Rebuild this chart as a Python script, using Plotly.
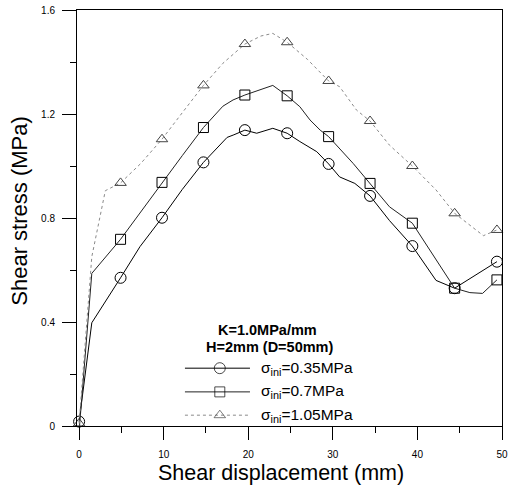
import plotly.graph_objects as go

# ---- data ----
marker_x = [0, 4.9, 9.8, 14.7, 19.6, 24.6, 29.5, 34.4, 39.4, 44.4, 49.4]
circ_y = [0.017, 0.570, 0.801, 1.014, 1.138, 1.126, 1.008, 0.885, 0.692, 0.530, 0.632]
sq_y = [-0.02, 0.718, 0.937, 1.148, 1.273, 1.270, 1.113, 0.933, 0.780, 0.530, 0.562]
tri_y = [0.01, 0.935, 1.103, 1.310, 1.469, 1.476, 1.327, 1.173, 1.000, 0.818, 0.754]

circ_line_x = [0, 1.5, 4.9, 7.2, 9.8, 12.2, 14.7, 17.5, 18.3, 19.6, 21.0, 22.9, 24.6,
               26.1, 28.1, 29.5, 30.8, 32.6, 34.4, 36.7, 39.4, 42.2, 44.4, 47.8, 49.4]
circ_line_y = [0.017, 0.397, 0.570, 0.69, 0.801, 0.91, 1.014, 1.11, 1.12, 1.138, 1.126, 1.145, 1.126,
               1.094, 1.055, 1.008, 0.958, 0.933, 0.885, 0.79, 0.692, 0.56, 0.530, 0.60, 0.632]

sq_line_x = [0, 1.5, 4.9, 7.3, 9.8, 12.2, 14.7, 17.0, 18.2, 19.6, 22.9, 24.6,
             26.1, 27.3, 28.5, 29.5, 32.4, 34.4, 36.7, 39.4, 42.2, 44.4, 46.2, 47.7, 49.4]
sq_line_y = [-0.02, 0.587, 0.718, 0.825, 0.937, 1.04, 1.148, 1.23, 1.254, 1.273, 1.31, 1.270,
             1.228, 1.177, 1.138, 1.113, 1.01, 0.933, 0.843, 0.780, 0.638, 0.530, 0.513, 0.51, 0.562]

tri_line_x = [0, 1.5, 3.1, 4.9, 7.3, 9.8, 12.2, 14.7, 17.0, 19.6, 21.5, 22.9, 24.6,
              27.0, 29.5, 30.8, 32.8, 34.4, 36.7, 39.4, 42.2, 44.4, 47.8, 49.4]
tri_line_y = [0.01, 0.651, 0.905, 0.935, 1.01, 1.103, 1.205, 1.310, 1.395, 1.469, 1.50, 1.51, 1.476,
              1.41, 1.327, 1.305, 1.215, 1.173, 1.08, 1.000, 0.908, 0.818, 0.732, 0.754]

series_names = ["<span style='color:#000000'>σ<sub>ini</sub>=0.35MPa</span>",
                "<span style='color:#000000'>σ<sub>ini</sub>=0.7MPa</span>",
                "<span style='color:#000000'>σ<sub>ini</sub>=1.05MPa</span>"]
x_ticks = [0, 10, 20, 30, 40, 50]
y_ticks = [0, 0.4, 0.8, 1.2, 1.6]
y_tick_text = ["0", "0.4", "0.8", "1.2", "1.6"]

FONT = "Liberation Sans, Arial, sans-serif"

styles = [
    dict(symbol="circle-open", size=11, lc="black", dash="solid", mc="black"),
    dict(symbol="square-open", size=10, lc="#222222", dash="solid", mc="black"),
    dict(symbol="triangle-up-open", size=10, lc="#8a8a8a", dash="dot", mc="#444444"),
]

fig = go.Figure()
lines = [(circ_line_x, circ_line_y), (sq_line_x, sq_line_y), (tri_line_x, tri_line_y)]
marks = [circ_y, sq_y, tri_y]
for (lx, ly), my, st in zip(lines, marks, styles):
    fig.add_trace(go.Scatter(x=lx, y=ly, mode="lines",
                             line=dict(color=st["lc"], width=1, dash=st["dash"]),
                             showlegend=False, hoverinfo="skip", cliponaxis=False))
    fig.add_trace(go.Scatter(x=marker_x, y=my, mode="markers",
                             marker=dict(symbol=st["symbol"], size=st["size"],
                                         color=st["mc"], line=dict(width=1, color=st["mc"])),
                             showlegend=False, cliponaxis=False))

# ---- legend keys (layout in paper fractions on a hidden overlay axis) ----
leg_x0, leg_xm, leg_x1 = 0.254, 0.336, 0.407
leg_rows = [0.139, 0.082, 0.026]
leg_text_x = 0.429
for row, st, name in zip(leg_rows, styles, series_names):
    fig.add_trace(go.Scatter(x=[leg_x0, leg_xm, leg_x1], y=[row, row, row],
                             xaxis="x2", yaxis="y2", mode="lines+markers",
                             line=dict(color=st["lc"], width=1, dash=st["dash"]),
                             marker=dict(symbol=st["symbol"], size=[0, st["size"], 0],
                                         color=st["mc"], line=dict(width=1, color=st["mc"])),
                             showlegend=False, hoverinfo="skip", cliponaxis=False))
    fig.add_annotation(xref="paper", yref="paper", x=leg_text_x, y=row, text=name,
                       showarrow=False, xanchor="left", yanchor="middle",
                       font=dict(family=FONT, size=15.5, color="black"))

fig.add_annotation(xref="paper", yref="paper", x=0.448, y=0.230, text="<b>K=1.0MPa/mm</b>",
                   showarrow=False, xanchor="center", yanchor="middle",
                   font=dict(family=FONT, size=14.5, color="black"))
fig.add_annotation(xref="paper", yref="paper", x=0.453, y=0.189, text="<b>H=2mm (D=50mm)</b>",
                   showarrow=False, xanchor="center", yanchor="middle",
                   font=dict(family=FONT, size=14.5, color="black"))

# axis titles
fig.add_annotation(xref="paper", yref="paper", x=0.481, y=-0.113, text="Shear displacement (mm)",
                   showarrow=False, xanchor="center", yanchor="middle",
                   font=dict(family=FONT, size=21.5, color="black"))
fig.add_annotation(xref="paper", yref="paper", x=-0.136, y=0.518, text="Shear stress (MPa)",
                   showarrow=False, xanchor="center", yanchor="middle", textangle=-90,
                   font=dict(family=FONT, size=22, color="black"))

fig.update_layout(
    width=510, height=488, autosize=False,
    margin=dict(l=77, r=8, t=10, b=62, autoexpand=False),
    paper_bgcolor="white", plot_bgcolor="white",
    font=dict(family=FONT, color="black"),
    showlegend=False,
    xaxis=dict(range=[-0.25, 50.0], tickvals=x_ticks, ticks="outside", ticklen=13,
               tickwidth=1, tickcolor="black", showgrid=False, zeroline=False, automargin=False,
               showline=True, linecolor="black", linewidth=1, mirror=True,
               tickfont=dict(family=FONT, size=10), ticklabelstandoff=6,
               minor=dict(dtick=5, tick0=0, ticks="outside", ticklen=6, tickcolor="black", showgrid=False)),
    yaxis=dict(range=[0, 1.6], tickvals=y_ticks, ticktext=y_tick_text, ticks="outside", ticklen=14,
               tickwidth=1, tickcolor="black", showgrid=False, zeroline=False, automargin=False,
               showline=True, linecolor="black", linewidth=1, mirror=True,
               tickfont=dict(family=FONT, size=10), ticklabelstandoff=5,
               minor=dict(dtick=0.2, tick0=0, ticks="outside", ticklen=6, tickcolor="black", showgrid=False)),
    xaxis2=dict(overlaying="x", range=[0, 1], visible=False),
    yaxis2=dict(overlaying="y", range=[0, 1], visible=False),
)

# remove the default page margin so the 510x488 figure fills the window exactly
fig.write_html("out.html",
               config={"displayModeBar": False},
               post_script="document.body.style.margin='0';document.body.style.overflow='hidden';")
